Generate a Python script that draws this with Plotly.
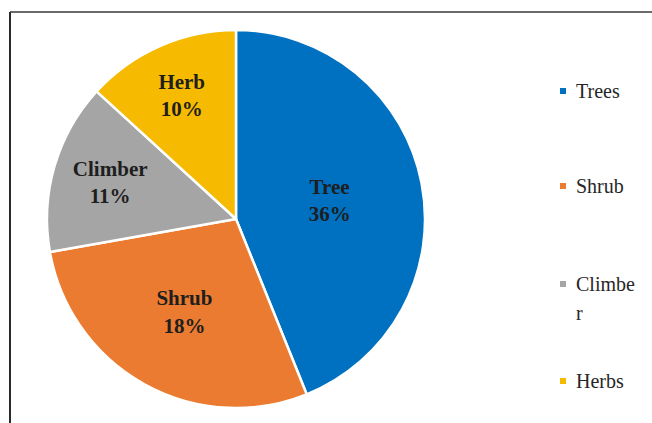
import plotly.graph_objects as go

# Data
slice_names = ["Tree", "Shrub", "Climber", "Herb"]
slice_values = [43.9, 28.3, 14.6, 13.2]          # slice sizes (angular share)
slice_labels = ["36%", "18%", "11%", "10%"]      # printed percentages
legend_names = ["Trees", "Shrub", "Climbe<br>r", "Herbs"]
colors = ["#0070C0", "#EB7B30", "#A5A5A5", "#F6BA00"]

W, H = 652, 423
SERIF = "Liberation Serif, Times New Roman, serif"
fig = go.Figure()

texts = [f"<b>{n}<br>{p}</b>" for n, p in zip(slice_names, slice_labels)]
fig.add_trace(go.Pie(
    labels=slice_names, values=slice_values, text=texts,
    texttemplate="%{text}", textposition="inside",
    insidetextorientation="horizontal",
    sort=False, direction="clockwise", rotation=0,
    marker=dict(colors=colors, line=dict(color="white", width=2.5)),
    insidetextfont=dict(family=SERIF, size=21, color="#1e1e1e"),
    domain=dict(x=[47 / W, 425 / W], y=[1 - 408 / H, 1 - 30 / H]),
    showlegend=False, hoverinfo="label+percent",
))

# Legend drawn as layout items (marker squares + text), from the lists above
legend_y = [91, 186, 284, 381]
shapes = [
    dict(type="line", xref="paper", yref="paper", x0=10 / W, x1=1.0,
         y0=1 - 12 / H, y1=1 - 12 / H, line=dict(color="#6a6a6a", width=2)),
    dict(type="line", xref="paper", yref="paper", x0=10 / W, x1=10 / W,
         y0=0, y1=1 - 12 / H, line=dict(color="#2a2a2a", width=2)),
]
annotations = []
for name, c, yc in zip(legend_names, colors, legend_y):
    shapes.append(dict(type="rect", xref="paper", yref="paper",
                       x0=560 / W, x1=566 / W, y0=1 - (yc + 3) / H, y1=1 - (yc - 3) / H,
                       fillcolor=c, line=dict(width=0)))
    for k, part in enumerate(name.split("<br>")):
        annotations.append(dict(
            text=part, xref="paper", yref="paper", x=574 / W, y=1 - (yc + 29 * k) / H,
            xanchor="left", yanchor="middle", showarrow=False,
            font=dict(family=SERIF, size=20, color="#262626")))

fig.update_layout(
    width=W, height=H, margin=dict(l=0, r=0, t=0, b=0),
    paper_bgcolor="white", plot_bgcolor="white",
    showlegend=False, shapes=shapes, annotations=annotations,
)

fig.write_html("out.html", config={"displayModeBar": False},
               post_script="document.body.style.margin='0';")
